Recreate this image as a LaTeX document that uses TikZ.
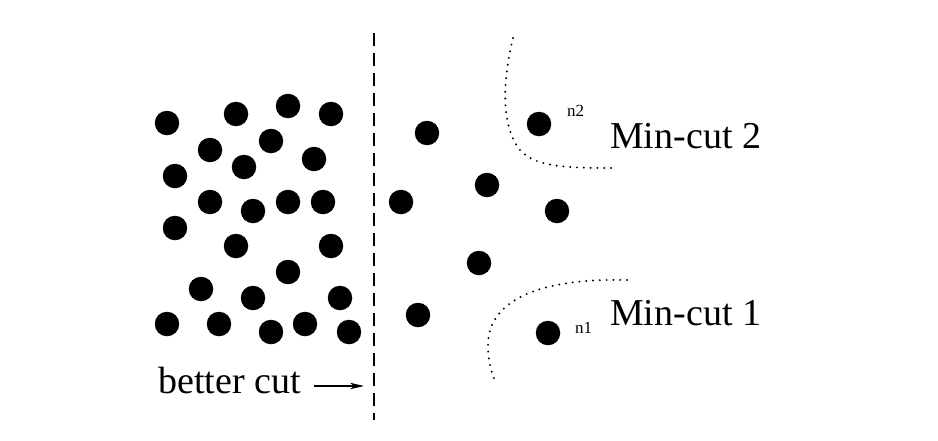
\documentclass[tikz,border=0pt]{standalone}
\usepackage{fontspec}
\setmainfont{Liberation Serif}
\usepackage{tikz}
\usetikzlibrary{arrows.meta}

\begin{document}
\begin{tikzpicture}[
    x=1pt, y=-1pt,
    >={Stealth[length=14pt, width=6.5pt, inset=4pt]},
    vtx/.style={circle, fill=black, inner sep=0pt, minimum size=24.5pt},
    cutline/.style={line width=1.8pt, dash pattern=on 13pt off 7pt},
    mincut/.style={line width=2.2pt, line cap=round, dash pattern=on 0pt off 6.8pt},
    big/.style={font=\fontsize{38}{40}\selectfont, inner sep=0pt, anchor=base west},
    small/.style={font=\fontsize{17}{19}\selectfont, inner sep=0pt, anchor=base west},
  ]
  \useasboundingbox (0,0) rectangle (938,440);

  % left side
  \node[vtx] (a1) at (167,123) {};
  \node[vtx] (a2) at (236,114) {};
  \node[vtx] (a3) at (288,106) {};
  \node[vtx] (a4) at (331,114) {};
  \node[vtx] (a5) at (210,150) {};
  \node[vtx] (a6) at (271,141) {};
  \node[vtx] (a7) at (314,159) {};
  \node[vtx] (a8) at (244,167) {};
  \node[vtx] (a9) at (175,176) {};
  \node[vtx] (a10) at (210,202) {};
  \node[vtx] (a11) at (253,211) {};
  \node[vtx] (a12) at (288,202) {};
  \node[vtx] (a13) at (323,202) {};
  \node[vtx] (a14) at (175,228) {};
  \node[vtx] (a15) at (236,246) {};
  \node[vtx] (a16) at (331,246) {};
  \node[vtx] (a17) at (288,272) {};
  \node[vtx] (a18) at (201,289) {};
  \node[vtx] (a19) at (253,298) {};
  \node[vtx] (a20) at (340,298) {};
  \node[vtx] (a21) at (167,324) {};
  \node[vtx] (a22) at (219,324) {};
  \node[vtx] (a23) at (271,332) {};
  \node[vtx] (a24) at (305,324) {};
  \node[vtx] (a25) at (349,332) {};

  % right side
  \node[vtx] (b1) at (427,133) {};
  \node[vtx] (b2) at (539,124) {};
  \node[vtx] (b3) at (487,185) {};
  \node[vtx] (b4) at (401,202) {};
  \node[vtx] (b5) at (557,211) {};
  \node[vtx] (b6) at (479,263) {};
  \node[vtx] (b7) at (418,315) {};
  \node[vtx] (b8) at (548,333) {};

  \node[small] (n2) at (567,116) {n2};
  \node[small] (n1) at (575,333) {n1};

  % cuts
  \coordinate (ctop) at (374,33);
  \coordinate (cbot) at (374,420);
  \coordinate (cmid) at (364,386);
  \draw[cutline] (ctop) -- (cbot);

  \draw[mincut] (513,38) .. controls (503,80) and (500,125) .. (520,150)
    .. controls (535,166) and (560,168) .. (613,168);
  \draw[mincut] (627,280) .. controls (540,278) and (488,300) .. (488,345)
    .. controls (488,362) and (492,375) .. (496,383);

  \node[big] (mc2) at (610,148) {Min-cut 2};
  \node[big] (mc1) at (610,325) {Min-cut 1};
  \node[big] (bc) at (158,393) {better cut};
  \draw[->, line width=1.1pt] ([xshift=13pt]bc.east |- cmid) -- (cmid);
\end{tikzpicture}
\end{document}
